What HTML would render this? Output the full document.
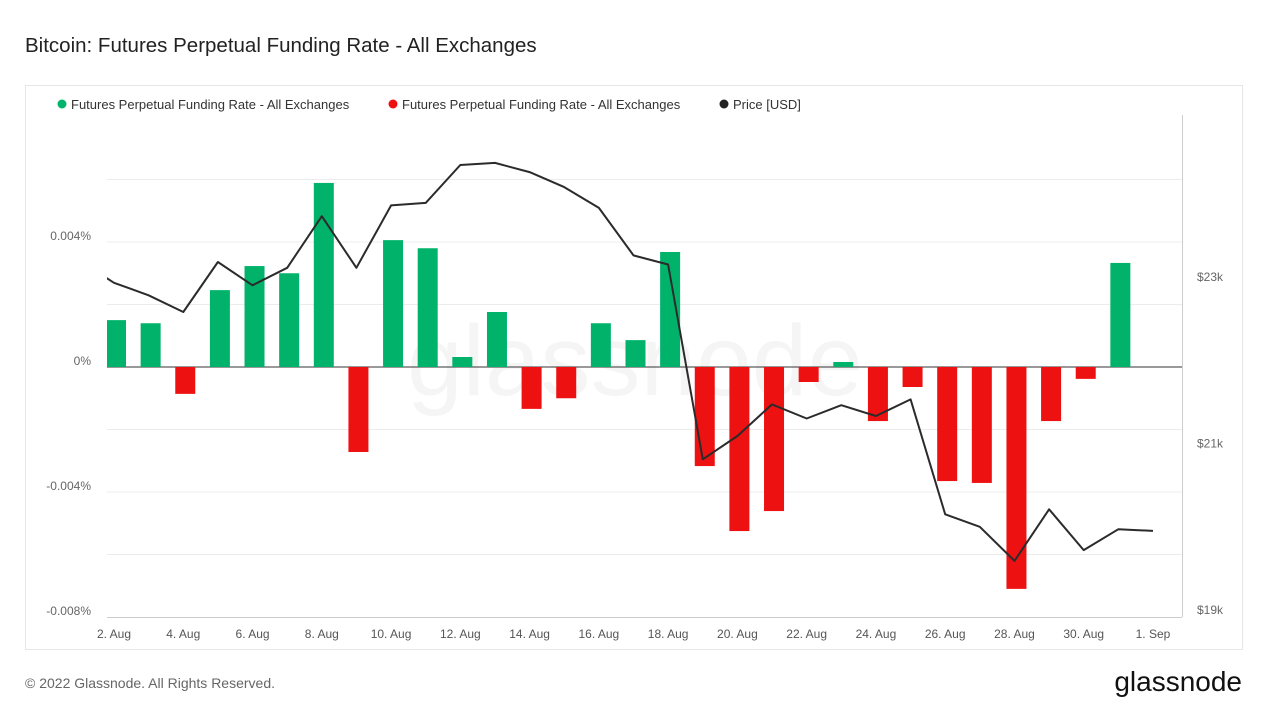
<!DOCTYPE html>
<html><head><meta charset="utf-8"><style>
body{margin:0;background:#fff;font-family:"Liberation Sans",sans-serif;}
</style></head><body>
<svg width="1269" height="714" xmlns="http://www.w3.org/2000/svg" id="svg">
<defs><clipPath id="cp"><rect x="107" y="115" width="1075" height="502"/></clipPath></defs>
<text x="25" y="52" font-size="20.5" fill="#222">Bitcoin: Futures Perpetual Funding Rate - All Exchanges</text>
<rect x="25.5" y="85.5" width="1217" height="564" fill="none" stroke="#e6e6e6"/>
<g font-size="13" fill="#333">
<circle cx="62" cy="104" r="4.5" fill="#00b26a"/>
<text x="71" y="109">Futures Perpetual Funding Rate - All Exchanges</text>
<circle cx="393" cy="104" r="4.5" fill="#ee1111"/>
<text x="402" y="109">Futures Perpetual Funding Rate - All Exchanges</text>
<circle cx="724" cy="104" r="4.5" fill="#222"/>
<text x="733" y="109">Price [USD]</text>
</g>
<text x="635" y="395" font-size="100" fill="#000" fill-opacity="0.04" text-anchor="middle">glassnode</text>
<g id="grid"></g><g id="bars" clip-path="url(#cp)"></g><g id="line"></g><g id="axes"></g>
<line x1="1182.5" y1="115" x2="1182.5" y2="617" stroke="#ccc"/>
<text x="25" y="688" font-size="14" fill="#666">© 2022 Glassnode. All Rights Reserved.</text>
<text x="1242" y="691" font-size="28" fill="#111" text-anchor="end">glassnode</text>
</svg>
<script>
const dayLabels=["2. Aug","4. Aug","6. Aug","8. Aug","10. Aug","12. Aug","14. Aug","16. Aug","18. Aug","20. Aug","22. Aug","24. Aug","26. Aug","28. Aug","30. Aug","1. Sep"];
const labelDays=[0,2,4,6,8,10,12,14,16,18,20,22,24,26,28,30];
const rateTicks=[0.004,0,-0.004,-0.008];
const rateTickLabels=["0.004%","0%","-0.004%","-0.008%"];
const priceTicks=[23000,21000,19000];
const priceTickLabels=["$23k","$21k","$19k"];
const funding=[0.0015,0.0014,-0.00086,0.00246,0.00323,0.003,0.00589,-0.00272,0.00406,0.0038,0.00032,0.00176,-0.00134,-0.001,0.0014,0.00086,0.00368,-0.00317,-0.00525,-0.00461,-0.00048,0.00016,-0.00173,-0.00064,-0.00365,-0.00371,-0.0071,-0.00173,-0.00038,0.00333];
const price=[23200,22930,22780,22580,23180,22900,23110,23730,23110,23860,23890,24345,24370,24260,24080,23830,23260,23150,20810,21090,21470,21300,21460,21330,21530,20150,20000,19590,20210,19720,19970,19950];
const NS="http://www.w3.org/2000/svg";
const X0=107,X1=1182,T=115,B=617;
const x=d=>114+d*34.633;
const yR=v=>367-v*31250;
const yP=p=>277-(p-23000)*0.08325;
function mk(tag,attrs,parent){const e=document.createElementNS(NS,tag);for(const k in attrs)e.setAttribute(k,attrs[k]);document.getElementById(parent).appendChild(e);return e;}
[0.006,0.004,0.002,-0.002,-0.004,-0.006].forEach(v=>{
 const l=mk('line',{x1:X0,x2:X1,y1:yR(v),y2:yR(v),stroke:'#ececec'},'grid');
 
 
});
const z=mk('line',{x1:X0,x2:X1,y1:yR(0),y2:yR(0),stroke:'#333'},'grid');


const base=mk('line',{x1:X0,x2:X1,y1:B+0.5,y2:B+0.5,stroke:'#ccc'},'grid');


funding.forEach((v,i)=>{
 const y=Math.min(yR(v),yR(0)),h=Math.abs(yR(v)-yR(0));
 const r=mk('rect',{x:x(i)-8,y:y,width:20,height:h,fill:v>=0?'#00b26a':'#ee1111'},'bars');
 
 
});
const pts=price.map((p,i)=>x(i-1).toFixed(1)+','+yP(p).toFixed(1)).join(' ');
const pl=mk('polyline',{points:pts,fill:'none',stroke:'#2b2b2b','stroke-width':2,'clip-path':'url(#cp)','stroke-linejoin':'round'},'line');


rateTicks.forEach((v,i)=>{
 const t=mk('text',{x:91,y:yR(v)-2,'font-size':12,fill:'#666','text-anchor':'end'},'axes');t.textContent=rateTickLabels[i];
 
 
});
priceTicks.forEach((p,i)=>{
 const t=mk('text',{x:1197,y:yP(p)+4,'font-size':12,fill:'#666'},'axes');t.textContent=priceTickLabels[i];
 
 
});
labelDays.forEach((d,i)=>{
 const t=mk('text',{x:x(d),y:638,'font-size':12,fill:'#555','text-anchor':'middle'},'axes');t.textContent=dayLabels[i];
 
 
});
</script>
</body></html>
